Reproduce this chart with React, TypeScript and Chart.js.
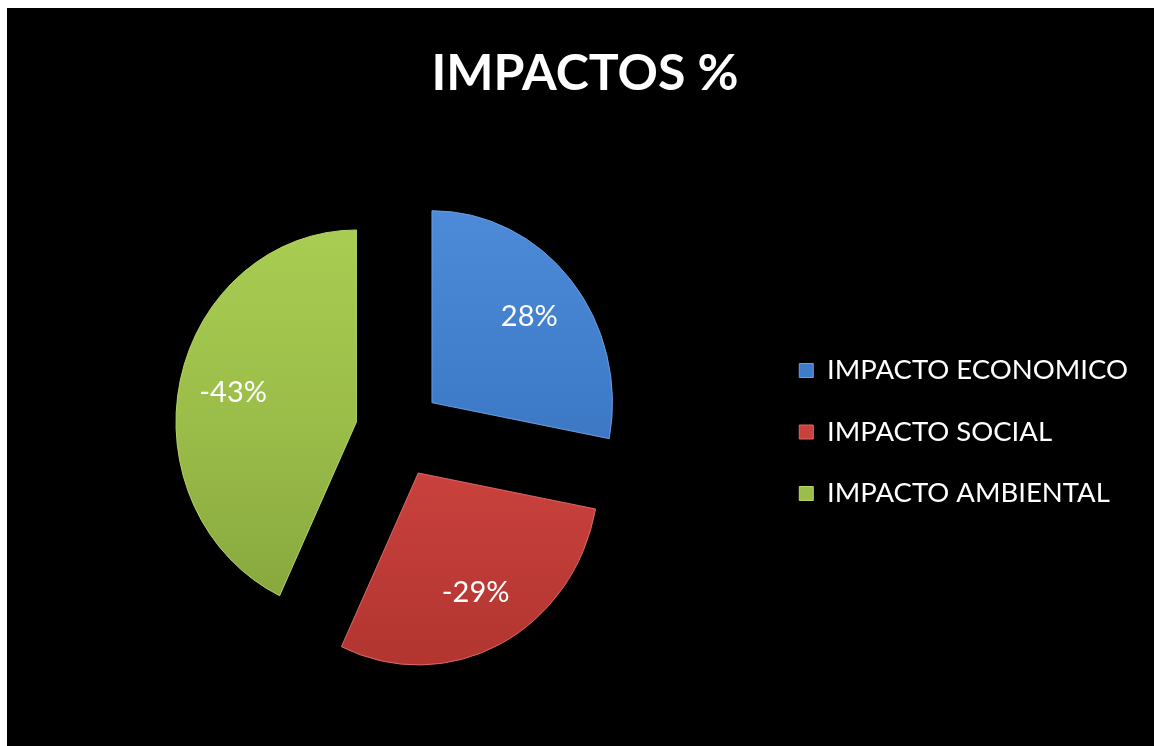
import React, { useEffect, useRef } from "react";
import { Chart, registerables } from "chart.js";

Chart.register(...registerables);

// ---- data ----
const categories = ["IMPACTO ECONOMICO", "IMPACTO SOCIAL", "IMPACTO AMBIENTAL"];
const impactValues = [28, -29, -43];
const sliceColors = ["#3e7bc8", "#c9413d", "#9bbd49"];
const topColors = ["#4d8bd9", "#d34e4a", "#a8cd52"];
const bottomColors = ["#3669ad", "#b23530", "#86a63d"];
const rimColors = ["#6a9fe0", "#e06a66", "#b8d766"];
const titleText = "IMPACTOS %";

// ---- style constants ----
const CANVAS_W = 1147;
const CANVAS_H = 738;
const PIE_RADIUS = 192;
const EXPLODE = 46;
const SQUASH_X = 0.94;
const LABEL_FRAC = 0.7;

const explodePlugin = {
  id: "explodeDraw",
  beforeDatasetDraw(chart: any, args: any) {
    const ctx: CanvasRenderingContext2D = chart.ctx;
    args.meta.data.forEach((arc: any, i: number) => {
      const { x, y, startAngle, endAngle, outerRadius } = arc.getProps(
        ["x", "y", "startAngle", "endAngle", "outerRadius"],
        true
      );
      const mid = (startAngle + endAngle) / 2;
      ctx.save();
      ctx.translate(x, y);
      ctx.scale(SQUASH_X, 1);
      ctx.translate(Math.cos(mid) * EXPLODE, Math.sin(mid) * EXPLODE);
      ctx.translate(-x, -y);
      const grad = ctx.createLinearGradient(x, y - outerRadius, x, y + outerRadius);
      grad.addColorStop(0, topColors[i]);
      grad.addColorStop(0.5, sliceColors[i]);
      grad.addColorStop(1, bottomColors[i]);
      const fake = Object.create(arc);
      fake.options = { ...arc.options, backgroundColor: grad };
      fake.draw(ctx);
      ctx.restore();
    });
    return false;
  },
};

const labelPlugin = {
  id: "sliceLabels",
  afterDatasetsDraw(chart: any) {
    const ctx: CanvasRenderingContext2D = chart.ctx;
    const meta = chart.getDatasetMeta(0);
    ctx.save();
    ctx.font = "29px Lato";
    ctx.fillStyle = "#ffffff";
    ctx.textAlign = "center";
    ctx.textBaseline = "middle";
    meta.data.forEach((arc: any, i: number) => {
      const { x, y, startAngle, endAngle, outerRadius } = arc.getProps(
        ["x", "y", "startAngle", "endAngle", "outerRadius"],
        true
      );
      const mid = (startAngle + endAngle) / 2;
      const d = EXPLODE + outerRadius * LABEL_FRAC;
      const lx = x + Math.cos(mid) * d * SQUASH_X;
      const ly = y + Math.sin(mid) * d;
      ctx.fillText(impactValues[i] + "%", lx, ly);
    });
    ctx.restore();
  },
};

export default function App() {
  const canvasRef = useRef<HTMLCanvasElement | null>(null);

  useEffect(() => {
    if (!canvasRef.current) return;
    const chart = new Chart(canvasRef.current, {
      type: "pie",
      data: {
        labels: categories,
        datasets: [
          {
            data: impactValues,
            backgroundColor: sliceColors,
            borderColor: rimColors,
            borderWidth: 1,
            radius: PIE_RADIUS,
          } as any,
        ],
      },
      options: {
        animation: false,
        responsive: false,
        events: [],
        layout: { padding: { left: 25, right: 16, top: 0, bottom: 6 } },
        plugins: {
          title: {
            display: true,
            text: titleText,
            color: "#ffffff",
            font: { family: "Lato", size: 50, weight: "bold" },
            padding: { top: 36, bottom: 20 },
          },
          legend: {
            position: "right",
            fullSize: false,
            labels: {
              color: "#ffffff",
              font: { family: "Lato", size: 27.5 },
              boxWidth: 14,
              boxHeight: 14,
              padding: 34,
              generateLabels: () =>
                categories.map((text, i) => ({
                  text,
                  fillStyle: sliceColors[i],
                  strokeStyle: rimColors[i],
                  lineWidth: 1,
                  hidden: false,
                  index: i,
                  fontColor: "#ffffff",
                })),
            },
          },
          tooltip: { enabled: false },
        },
      },
      plugins: [explodePlugin, labelPlugin],
    });
    return () => chart.destroy();
  }, []);

  return (
    <div
      style={{
        position: "fixed",
        left: 7,
        top: 8,
        width: CANVAS_W,
        height: CANVAS_H,
        background: "#000000",
      }}
    >
      <canvas ref={canvasRef} width={CANVAS_W} height={CANVAS_H} />
    </div>
  );
}
